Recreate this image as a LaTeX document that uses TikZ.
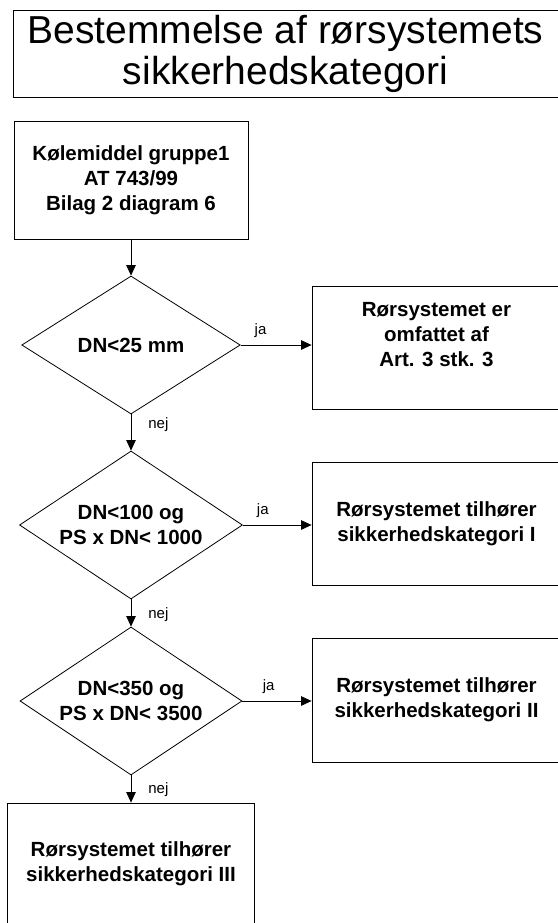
\documentclass[tikz,border=0pt]{standalone}
\usepackage{fontspec}
\setmainfont{Liberation Sans}
\usetikzlibrary{arrows.meta,shapes.geometric}

\begin{document}
\begin{tikzpicture}[x=1pt,y=1pt,>={Triangle[length=10.5pt,width=9.5pt]},
  boks/.style={draw,line width=0.8pt,align=center,inner sep=0pt,
    font=\fontsize{20.5}{25}\selectfont\bfseries},
  valg/.style={draw,diamond,aspect=1.5,line width=0.8pt,align=center,inner sep=0pt,
    font=\fontsize{20.5}{25}\selectfont\bfseries},
  svar/.style={font=\fontsize{15}{18}\selectfont,inner sep=0pt}]
  \useasboundingbox (0,0) rectangle (557,-923);
  % overskrift
  \node[draw,line width=0.8pt,minimum width=545pt,minimum height=86.6pt,align=center,
    font=\fontsize{39}{41}\selectfont] (titel) at (285.5,-54)
    {Bestemmelse af rørsystemets\\sikkerhedskategori};
  % venstre kolonne
  \node[boks,minimum width=234pt,minimum height=118pt] (start) at (131,-180)
    {Kølemiddel gruppe1\\AT 743/99\\Bilag 2 diagram 6};
  \node[valg,minimum width=218.5pt,minimum height=138pt] (dn25) at (131,-345) {DN<25 mm};
  \node[valg,minimum width=223pt,minimum height=148pt] (dn100) at (131,-525)
    {DN<100 og\\PS x DN< 1000};
  \node[valg,minimum width=222pt,minimum height=148pt] (dn350) at (131,-701)
    {DN<350 og\\PS x DN< 3500};
  \node[boks,minimum width=246.7pt,minimum height=122pt] (kat3) at (131,-864)
    {Rørsystemet tilhører\\sikkerhedskategori III};
  % hoejre kolonne
  \node[boks,minimum width=249pt,minimum height=123pt] (art3) at (436.5,-347.5) {};
  \node[boks,draw=none] at ([yshift=13pt]art3.center) {Rørsystemet er\\omfattet af\\Art. 3 stk. 3};
  \node[boks,minimum width=249pt,minimum height=122.5pt] (kat1) at (436.5,-523.75)
    {Rørsystemet tilhører\\sikkerhedskategori I};
  \node[boks,minimum width=249pt,minimum height=124pt] (kat2) at (436.5,-700)
    {Rørsystemet tilhører\\sikkerhedskategori II};
  % pile
  \draw[->,line width=0.8pt] (start.south) -- (dn25.north);
  \draw[->,line width=0.8pt] (dn25.south) -- node[svar,right=17pt,pos=0.28] {nej} (dn100.north);
  \draw[->,line width=0.8pt] (dn100.south) -- node[svar,right=17pt,pos=0.57] {nej} (dn350.north);
  \draw[->,line width=0.8pt] (dn350.south) -- node[svar,right=17pt,pos=0.54] {nej} (kat3.north);
  \draw[->,line width=0.8pt] (dn25.east) -- node[svar,above=7pt,pos=0.28] {ja} (dn25.east -| art3.west);
  \draw[->,line width=0.8pt] (dn100.east) -- node[svar,above=7pt,pos=0.29] {ja} (dn100.east -| kat1.west);
  \draw[->,line width=0.8pt] (dn350.east) -- node[svar,above=7pt,pos=0.38] {ja} (dn350.east -| kat2.west);
\end{tikzpicture}
\end{document}
